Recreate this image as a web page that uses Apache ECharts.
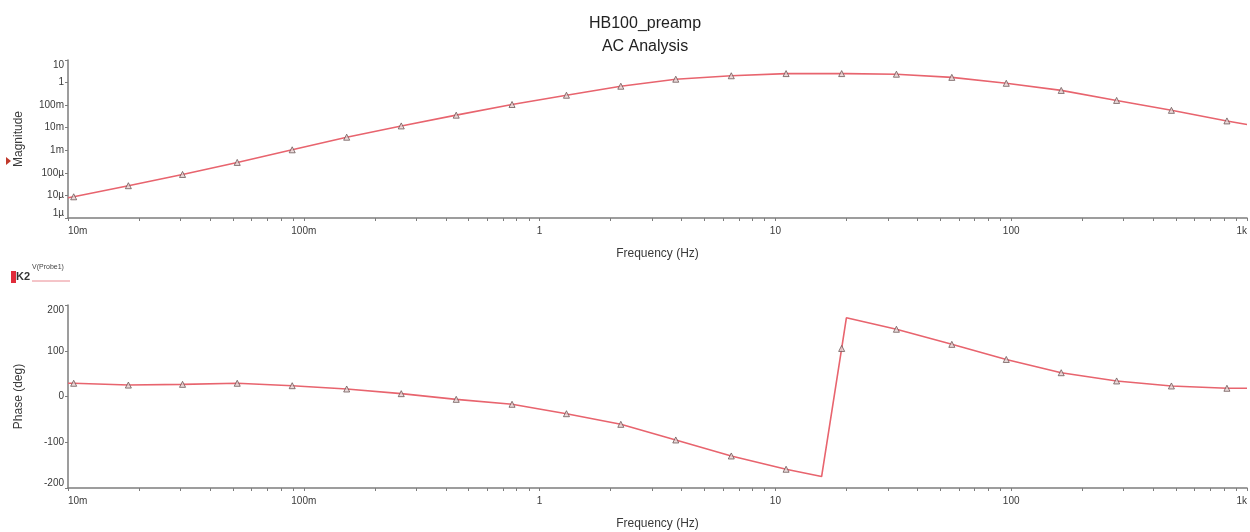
<!DOCTYPE html>
<html>
<head>
<meta charset="utf-8">
<title>HB100_preamp AC Analysis</title>
<script src="https://cdn.jsdelivr.net/npm/echarts@6/dist/echarts.min.js"></script>
<style>
	html, body { margin: 0; padding: 0; background: #fff; }
	#acChart { width: 1250px; height: 532px; }
</style>
</head>
<body>
<div id="acChart"></div>
<script>
// sample frequencies (Hz)
var freq = [0.01, 0.01057, 0.01803, 0.0306, 0.0522, 0.0893, 0.152, 0.259, 0.443, 0.764,
	1.30, 2.21, 3.78, 6.50, 11.1, 15.7, 19.1, 20.0, 32.6, 56.0, 95.3, 163, 280, 478, 822, 1000];
// V(Probe1) magnitude
var magnitude = [7.9e-6, 8.7e-6, 2.7e-5, 8.5e-5, 2.9e-4, 1.05e-3, 3.8e-3, 0.012, 0.036, 0.107,
	0.275, 0.69, 1.41, 2.0, 2.5, 2.52, 2.5, 2.5, 2.35, 1.7, 0.93, 0.45, 0.162, 0.059, 0.020, 0.014];
// V(Probe1) phase (deg)
var phase = [29, 28.9, 25, 26.6, 28.9, 23.6, 16.4, 6.2, -6.2, -17,
	-37.6, -60.8, -95, -130, -159, -175, 105, 172, 147, 114, 81, 52, 34, 23, 18, 18];
// 1 = point carries a triangle marker
var marked = [0, 1, 1, 1, 1, 1, 1, 1, 1, 1,
	1, 1, 1, 1, 1, 0, 1, 0, 1, 1, 1, 1, 1, 1, 1, 0];

// axis ticks
var freqTicks = [0.01, 0.1, 1, 10, 100, 1000];
var freqLabels = ['10m', '100m', '1', '10', '100', '1k'];
var minorSteps = [1, 2, 3, 4, 5, 6, 7, 8, 9];
var magTicks = [1e-6, 1e-5, 1e-4, 1e-3, 0.01, 0.1, 1, 10];
var magLabels = ['1\u00b5', '10\u00b5', '100\u00b5', '1m', '10m', '100m', '1', '10'];
var phaseTicks = [-200, -100, 0, 100, 200];

var traceColor = '#e8646e';
var axisColor = '#7d7d7d';
var textColor = '#3a3a3a';
var fontName = 'Liberation Sans, Arial, sans-serif';

function labelFor(ticks, labels){
	return function(v){
		for (var i = 0; i < ticks.length; i++) {
			if (Math.abs(Math.log10(v) - Math.log10(ticks[i])) < 1e-6) return labels[i];
		}
		return '';
	};
}

// minor tick positions, one per 1..9 step in every decade
function freqMinorTicks(){
	var out = [];
	for (var d = 0; d < freqTicks.length - 1; d++) {
		for (var k = 0; k < minorSteps.length; k++) out.push(freqTicks[d] * minorSteps[k]);
	}
	out.push(freqTicks[freqTicks.length - 1]);
	return out;
}

function pairs(ys){
	var out = [];
	for (var i = 0; i < freq.length; i++) out.push([freq[i], ys[i]]);
	return out;
}
function markerPairs(ys){
	var out = [];
	for (var i = 0; i < freq.length; i++) if (marked[i]) out.push([freq[i], ys[i]]);
	return out;
}

function xAxisFor(gridIndex){
	return {
		gridIndex: gridIndex,
		type: 'log',
		logBase: 10,
		min: 0.01,
		max: 1000,
		name: 'Frequency (Hz)',
		nameLocation: 'middle',
		nameGap: 30,
		nameTextStyle: { fontSize: 12, color: textColor, fontFamily: fontName },
		axisLine: { onZero: false, lineStyle: { color: axisColor, width: 1.5 } },
		axisTick: { show: true, length: 3, customValues: freqMinorTicks(), lineStyle: { color: axisColor } },
		axisLabel: {
			customValues: freqTicks,
			formatter: labelFor(freqTicks, freqLabels),
			fontSize: 10, color: textColor, fontFamily: fontName, margin: 8,
			alignMinLabel: 'left', alignMaxLabel: 'right'
		},
		splitLine: { show: false }
	};
}

var markerStyle = { color: '#e6d2d2', borderColor: '#6e5858', borderWidth: 1 };

var option = {
	backgroundColor: '#fff',
	animation: false,
	title: {
		text: 'HB100_preamp\nAC Analysis',
		left: 640,
		top: 7,
		textAlign: 'center',
		textStyle: { fontSize: 16, fontWeight: 'normal', color: '#222', fontFamily: fontName, lineHeight: 23 }
	},
	grid: [
		{ left: 68, right: 2, top: 60, height: 158 },
		{ left: 68, right: 2, top: 305, height: 183 }
	],
	xAxis: [xAxisFor(0), xAxisFor(1)],
	yAxis: [
		{
			gridIndex: 0,
			type: 'log',
			logBase: 10,
			min: 1e-6,
			max: 10,
			name: 'Magnitude',
			nameLocation: 'middle',
			nameGap: 43,
			nameTextStyle: { fontSize: 12, color: textColor, fontFamily: fontName },
			axisLine: { show: true, lineStyle: { color: axisColor, width: 1.5 } },
			axisTick: { show: true, length: 3, customValues: magTicks, lineStyle: { color: axisColor } },
			axisLabel: {
				customValues: magTicks,
				formatter: labelFor(magTicks, magLabels),
				fontSize: 10, color: textColor, fontFamily: fontName, margin: 4,
				verticalAlignMinLabel: 'bottom', verticalAlignMaxLabel: 'top'
			},
			splitLine: { show: false }
		},
		{
			gridIndex: 1,
			type: 'value',
			min: -200,
			max: 200,
			interval: 100,
			name: 'Phase (deg)',
			nameLocation: 'middle',
			nameGap: 43,
			nameTextStyle: { fontSize: 12, color: textColor, fontFamily: fontName },
			axisLine: { show: true, lineStyle: { color: axisColor, width: 1.5 } },
			axisTick: { show: true, length: 3, lineStyle: { color: axisColor } },
			axisLabel: {
				fontSize: 10, color: textColor, fontFamily: fontName, margin: 4,
				verticalAlignMinLabel: 'bottom', verticalAlignMaxLabel: 'top'
			},
			splitLine: { show: false }
		}
	],
	series: [
		{
			name: 'V(Probe1)', type: 'line', xAxisIndex: 0, yAxisIndex: 0,
			data: pairs(magnitude), showSymbol: false,
			lineStyle: { color: traceColor, width: 1.6 }, z: 2
		},
		{
			name: 'markers', type: 'scatter', xAxisIndex: 0, yAxisIndex: 0,
			data: markerPairs(magnitude), symbol: 'triangle', symbolSize: 6,
			itemStyle: markerStyle, z: 3
		},
		{
			name: 'V(Probe1)', type: 'line', xAxisIndex: 1, yAxisIndex: 1,
			data: pairs(phase), showSymbol: false,
			lineStyle: { color: traceColor, width: 1.6 }, z: 2
		},
		{
			name: 'markers', type: 'scatter', xAxisIndex: 1, yAxisIndex: 1,
			data: markerPairs(phase), symbol: 'triangle', symbolSize: 6,
			itemStyle: markerStyle, z: 3
		}
	],
	graphic: [
		// cursor flag on the magnitude plot
		{ type: 'polygon', shape: { points: [[6, 157], [11, 161], [6, 165]] }, style: { fill: '#c0392b' } },
		// trace legend of the phase plot
		{ type: 'rect', shape: { x: 11, y: 271, width: 5, height: 12 }, style: { fill: '#e02c3a' } },
		{ type: 'text', x: 16, y: 271, style: { text: 'K2', fontSize: 11, fontWeight: 'bold', fill: '#333', fontFamily: fontName } },
		{ type: 'text', x: 32, y: 264, style: { text: 'V(Probe1)', fontSize: 7, fill: '#444', fontFamily: fontName } },
		{ type: 'line', shape: { x1: 32, y1: 281, x2: 70, y2: 281 }, style: { stroke: '#ea8a92', lineWidth: 1 } }
	]
};

var myChart = echarts.init(document.getElementById('acChart'));
myChart.setOption(option);
</script>
</body>
</html>
